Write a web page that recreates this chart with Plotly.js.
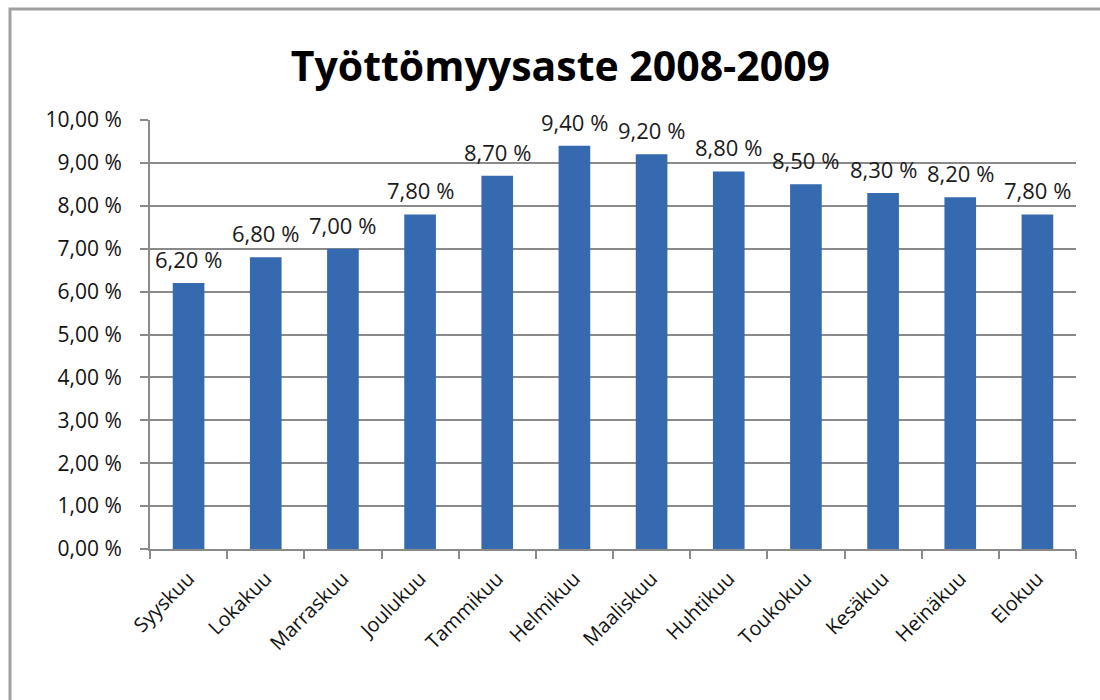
<!DOCTYPE html>
<html>
<head>
<meta charset="utf-8">
<script src="https://cdn.plot.ly/plotly-3.0.1.min.js"></script>
<style>html,body{margin:0;padding:0;background:#fff;}#chart{width:1100px;height:700px;}</style>
</head>
<body>
<div id="chart"></div>
<script>
const months = ["Syyskuu","Lokakuu","Marraskuu","Joulukuu","Tammikuu","Helmikuu","Maaliskuu","Huhtikuu","Toukokuu","Kesäkuu","Heinäkuu","Elokuu"];
const rates = [6.2, 6.8, 7.0, 7.8, 8.7, 9.4, 9.2, 8.8, 8.5, 8.3, 8.2, 7.8];
const yTicks = [0,1,2,3,4,5,6,7,8,9,10];
const yTickText = ["0,00 %","1,00 %","2,00 %","3,00 %","4,00 %","5,00 %","6,00 %","7,00 %","8,00 %","9,00 %","10,00 %"];
const barLabels = ["6,20 %","6,80 %","7,00 %","7,80 %","8,70 %","9,40 %","9,20 %","8,80 %","8,50 %","8,30 %","8,20 %","7,80 %"];
const chartTitle = "Työttömyysaste 2008-2009";

const font = "Open Sans, Noto Sans, sans-serif";
const L = 150, R = 1100-1076, T = 120, B = 700-549;
const pw = 1100-L-R, ph = 700-T-B;

const labelAnnotations = months.map((m, i) => ({
  x: m, y: rates[i], xref: "x", yref: "y",
  text: barLabels[i], showarrow: false,
  xanchor: "center", yanchor: "bottom", yshift: 7,
  font: {family: font, size: 22, color: "#1a1a1a"}
}));

Plotly.newPlot("chart", [{
  type: "bar",
  x: months,
  y: rates,
  marker: {color: "#3569b0", line: {width: 0}},
  hoverinfo: "none"
}], {
  width: 1100, height: 700,
  margin: {l: L, r: R, t: T, b: B},
  paper_bgcolor: "#fff", plot_bgcolor: "#fff",
  bargap: 0.59,
  showlegend: false,
  title: {text: chartTitle, font: {family: "Open Sans, sans-serif", size: 41, color: "#000", weight: "bold"}, xref: "container", x: 0.5095, xanchor: "center", y: 0.905, yanchor: "middle"},
  xaxis: {
    tickangle: -45, tickfont: {family: font, size: 20, color: "#111"},
    showline: true, linecolor: "#8a8a8a", linewidth: 2,
    ticks: "outside", tickson: "boundaries", ticklen: 8, tickwidth: 2, tickcolor: "#8a8a8a",
    showgrid: false, fixedrange: true, ticklabelstandoff: 8
  },
  yaxis: {
    range: [0, 10], tickmode: "array", tickvals: yTicks, ticktext: yTickText,
    tickfont: {family: font, size: 21, color: "#111"},
    showline: true, linecolor: "#8a8a8a", linewidth: 2,
    ticks: "outside", ticklen: 8, tickwidth: 2, tickcolor: "#8a8a8a",
    showgrid: true, gridcolor: "#8a8a8a", gridwidth: 2, zeroline: false,
    fixedrange: true, ticklabelstandoff: 14
  },
  annotations: labelAnnotations,
  shapes: [{
    type: "rect", xref: "paper", yref: "paper", layer: "below",
    x0: (10-L)/pw, x1: (1110-L)/pw, y0: (549-720)/ph, y1: (549-9)/ph,
    line: {color: "#a0a0a0", width: 3}, fillcolor: "rgba(0,0,0,0)"
  }]
}, {staticPlot: true});
</script>
</body>
</html>
